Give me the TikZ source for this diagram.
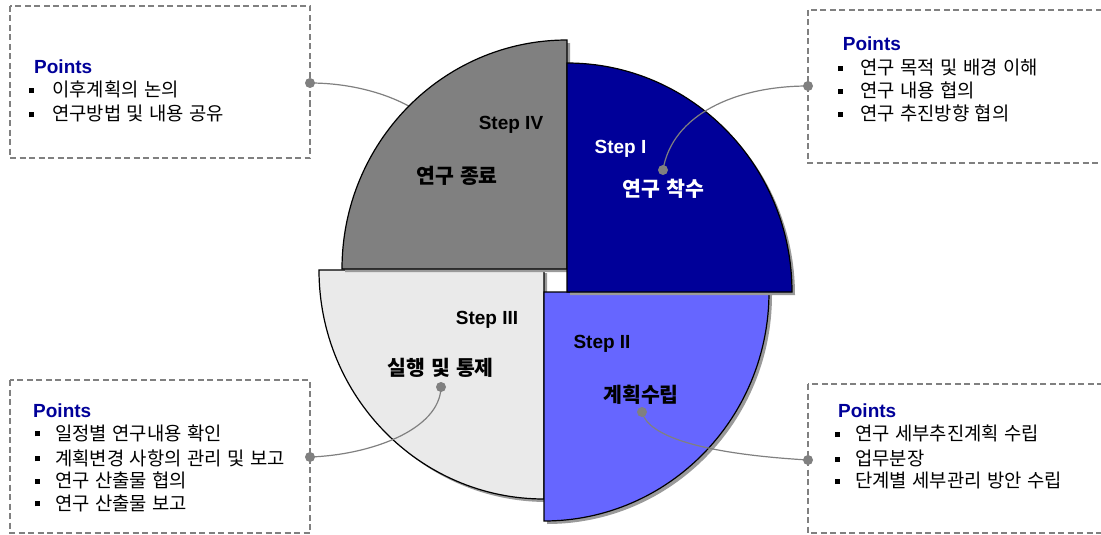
\documentclass[tikz,border=0pt]{standalone}
\usepackage{fontspec}
\setmainfont{Liberation Sans}
\newfontfamily\kr{Noto Sans CJK KR}[WordSpace=1.6]
\newfontfamily\krb{Noto Sans CJK KR}[WordSpace=1.3]
\definecolor{qone}{HTML}{000099}
\definecolor{qtwo}{HTML}{6666FF}
\definecolor{qthree}{HTML}{EAEAEA}
\definecolor{qfour}{HTML}{808080}
\definecolor{ptblue}{HTML}{000099}
\definecolor{linegray}{HTML}{808080}
\definecolor{shadowgray}{HTML}{9A9A9A}
\newcommand{\itm}[2]{\rule[3.7pt]{5pt}{5pt}\hspace{#1pt}#2}
\begin{document}
\begin{tikzpicture}[x=1pt,y=-1pt,
  quad/.style={draw=black, line width=1.2pt, line join=miter},
  shad/.style={fill=shadowgray, draw=none},
  ptbox/.style={draw=linegray, dash pattern=on 6pt off 3.5pt, line width=1.4pt},
  conn/.style={draw=linegray, line width=1.2pt},
  dot/.style={circle, fill=linegray, inner sep=0pt, minimum size=10pt},
  steplab/.style={font=\fontsize{19}{19}\selectfont\bfseries, inner sep=0pt, anchor=base},
  kolab/.style={font=\krb\fontsize{20.5}{20.5}\selectfont\bfseries, inner sep=0pt, anchor=base},
  pts/.style={font=\fontsize{19}{19}\selectfont\bfseries, text=ptblue, inner sep=0pt, anchor=base west},
  itemtxt/.style={font=\kr\fontsize{18.8}{18.8}\selectfont, inner sep=0pt, anchor=base west}]
\useasboundingbox (0,0) rectangle (1101,535);
\clip (0,0) rectangle (1101,535);
\fill[white] (0,0) rectangle (1101,535);

% ---- point boxes
\draw[ptbox] (10,6) rectangle (310,158);
\draw[ptbox] (808,10) rectangle (1120,163);
\draw[ptbox] (10,380) rectangle (310,533);
\draw[ptbox] (808,384) rectangle (1120,533);

% ---- connector behind step IV
\coordinate (c4in) at (462,175);
\node[dot] (d4out) at (310,83) {};
\draw[conn] (d4out.center) .. controls (380,83) and (455,115) .. (c4in);

% ---- step III
\fill[shad,shift={(3,3)}] (544,270) -- (319,270) arc[start angle=180, end angle=270, x radius=225pt, y radius=229pt] -- cycle;
\draw[quad,fill=qthree] (544,270) -- (319,270) arc[start angle=180, end angle=270, x radius=225pt, y radius=229pt] -- cycle;
% ---- step IV
\fill[shad,shift={(3,3)}] (567,269) -- (342,269) arc[start angle=180, end angle=90, x radius=225pt, y radius=229pt] -- cycle;
\draw[quad,fill=qfour] (567,269) -- (342,269) arc[start angle=180, end angle=90, x radius=225pt, y radius=229pt] -- cycle;
% ---- step II
\fill[shad,shift={(3,3)}] (544,292) -- (769,292) arc[start angle=0, end angle=-90, x radius=225pt, y radius=229pt] -- cycle;
\draw[quad,fill=qtwo] (544,292) -- (769,292) arc[start angle=0, end angle=-90, x radius=225pt, y radius=229pt] -- cycle;
% ---- step I
\fill[shad,shift={(3,3)}] (567,292) -- (567,63) arc[start angle=90, end angle=0, x radius=225pt, y radius=229pt] -- cycle;
\draw[quad,fill=qone] (567,292) -- (567,63) arc[start angle=90, end angle=0, x radius=225pt, y radius=229pt] -- cycle;

% ---- step labels
\node[steplab] (s4) at (511,129.5) {Step IV};
\node[kolab] (k4) at (457,183) {연구 종료};
\node[steplab,text=white] (s1) at (620.5,153) {Step I};
\node[kolab,text=white] (k1) at (663.5,196.5) {연구 착수};
\node[steplab] (s3) at (487,324) {Step III};
\node[kolab] (k3) at (440.5,375) {실행 및 통제};
\node[steplab] (s2) at (602,348) {Step II};
\node[kolab] (k2) at (641,402) {계획수립};

% ---- connectors
\node[dot] (d1in) at (663,170) {};
\node[dot] (d1out) at (808,86) {};
\draw[conn] (d1in.center) .. controls (672,115) and (735,86) .. (d1out.center);
\node[dot] (d3in) at (441,387) {};
\node[dot] (d3out) at (310,457) {};
\draw[conn] (d3in.center) .. controls (440,430) and (370,455) .. (d3out.center);
\node[dot] (d2in) at (642,412) {};
\node[dot] (d2out) at (808,460) {};
\draw[conn] (d2in.center) .. controls (648,437) and (705,454) .. (d2out.center);

% ---- texts: top left
\node[pts] (p4) at (34,73.3) {Points};
\node[itemtxt] (p4a) at (29,96.8) {\itm{18}{이후계획의 논의}};
\node[itemtxt] (p4b) at (29,121) {\itm{18}{연구방법 및 내용 공유}};
% top right
\node[pts] (p1) at (842.7,50.5) {Points};
\node[itemtxt] (p1a) at (838,74.8) {\itm{17}{연구 목적 및 배경 이해}};
\node[itemtxt] (p1b) at (838,97.8) {\itm{17}{연구 내용 협의}};
\node[itemtxt] (p1c) at (838,120.8) {\itm{17}{연구 추진방향 협의}};
% bottom left
\node[pts] (p3) at (33,417) {Points};
\node[itemtxt] (p3a) at (35,440) {\itm{15}{일정별 연구내용 확인}};
\node[itemtxt] (p3b) at (35,465) {\itm{15}{계획변경 사항의 관리 및 보고}};
\node[itemtxt] (p3c) at (35,487.3) {\itm{15}{연구 산출물 협의}};
\node[itemtxt] (p3d) at (35,510) {\itm{15}{연구 산출물 보고}};
% bottom right
\node[pts] (p2) at (838,417) {Points};
\node[itemtxt] (p2a) at (835,440.8) {\itm{15}{연구 세부추진계획 수립}};
\node[itemtxt] (p2b) at (835,465.8) {\itm{15}{업무분장}};
\node[itemtxt] (p2c) at (835,487.8) {\itm{15}{단계별 세부관리 방안 수립}};
\end{tikzpicture}
\end{document}
